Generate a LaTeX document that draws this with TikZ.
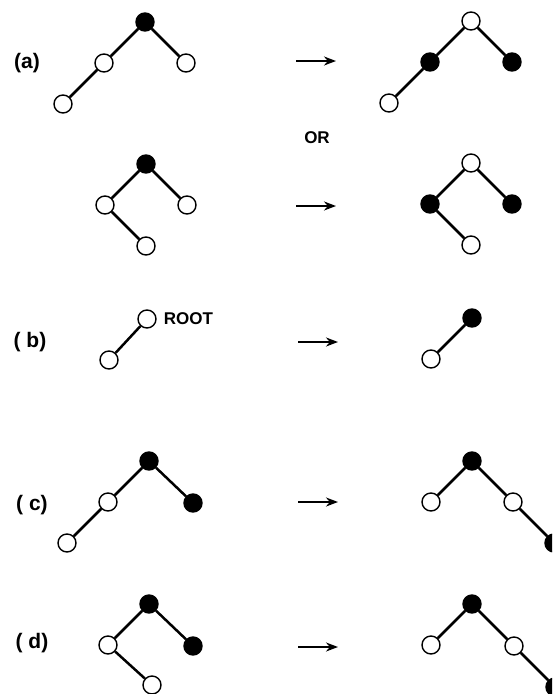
\documentclass[tikz,border=0pt]{standalone}
\usepackage{fontspec}
\setsansfont{Liberation Sans}
\usetikzlibrary{positioning,arrows.meta}
\tikzset{
  rbnode/.style = {circle, draw=black, line width=1.4pt,
    minimum size=18pt, inner sep=0pt},
  rb_b/.style = {rbnode, fill=black},% noeud noir
  rb_w/.style = {rbnode, fill=white},% noeud blanc
  rb_e/.style = {line width=2.5pt},% arete
  txtlbl/.style = {font=\sffamily\bfseries\fontsize{17}{20}\selectfont},
  caselbl/.style = {font=\sffamily\bfseries\fontsize{21}{24}\selectfont},
  goarrow/.style = {line width=2pt, -{Stealth[length=12pt,width=9pt]}}
}

\begin{document}
\begin{tikzpicture}[x=1pt,y=-1pt,on grid,node distance=41pt and 41pt]
\useasboundingbox (0,0) rectangle (552,694);
\clip (0,0) rectangle (552,694);

% (a)
\node[caselbl] (la) at (27,63) {(a)};
\node[rb_b] (a1) at (145,22) {};
\node[rb_w, below left=of a1] (a2) {};
\node[rb_w, below right=of a1] (a3) {};
\node[rb_w, below left=of a2] (a4) {};
\draw[rb_e] (a1) -- (a2) (a1) -- (a3) (a2) -- (a4);

\coordinate (pa1) at (296,61);
\coordinate (pa2) at (336,61);
\draw[goarrow] (pa1) -- (pa2);

\node[rb_w] (a5) at (471,21) {};
\node[rb_b, below left=of a5] (a6) {};
\node[rb_b, below right=of a5] (a7) {};
\node[rb_w, below left=of a6] (a8) {};
\draw[rb_e] (a5) -- (a6) (a5) -- (a7) (a6) -- (a8);

\node[txtlbl] (or) at (317,138) {OR};

\node[rb_b] (e1) at (146,164) {};
\node[rb_w, below left=of e1] (e2) {};
\node[rb_w, below right=of e1] (e3) {};
\node[rb_w, below right=of e2] (e4) {};
\draw[rb_e] (e1) -- (e2) (e1) -- (e3) (e2) -- (e4);

\coordinate (pe1) at (296,206);
\coordinate (pe2) at (336,206);
\draw[goarrow] (pe1) -- (pe2);

\node[rb_w] (e5) at (471,163) {};
\node[rb_b, below left=of e5] (e6) {};
\node[rb_b, below right=of e5] (e7) {};
\node[rb_w, below right=of e6] (e8) {};
\draw[rb_e] (e5) -- (e6) (e5) -- (e7) (e6) -- (e8);

% (b)
\node[caselbl] (lb) at (30,342) {( b)};
\node[rb_w] (b1) at (147,319) {};
\node[rb_w, below left=41pt and 38pt of b1] (b2) {};
\draw[rb_e] (b1) -- (b2);
\node[txtlbl, anchor=west, inner sep=0pt] (rootlbl) at ([xshift=7pt]b1.east) {ROOT};

\coordinate (pb1) at (298,342);
\coordinate (pb2) at (338,342);
\draw[goarrow] (pb1) -- (pb2);

\node[rb_b] (b3) at (472,318) {};
\node[rb_w, below left=of b3] (b4) {};
\draw[rb_e] (b3) -- (b4);

% (c)
\node[caselbl] (lc) at (32,505) {( c)};
\node[rb_b] (c1) at (149,461) {};
\node[rb_w, below left=of c1] (c2) {};
\node[rb_w, below left=of c2] (c3) {};
\node[rb_b, below right=42pt and 44pt of c1] (c4) {};
\draw[rb_e] (c1) -- (c2) (c2) -- (c3) (c1) -- (c4);

\coordinate (pc1) at (298,502);
\coordinate (pc2) at (338,502);
\draw[goarrow] (pc1) -- (pc2);

\node[rb_b] (c5) at (472,461) {};
\node[rb_w, below left=of c5] (c6) {};
\node[rb_w, below right=of c5] (c7) {};
\node[rb_b, below right=of c7] (c8) {};
\draw[rb_e] (c5) -- (c6) (c5) -- (c7) (c7) -- (c8);

% (d)
\node[caselbl] (ld) at (32,643) {( d)};
\node[rb_b] (d1) at (149,604) {};
\node[rb_w, below left=of d1] (d2) {};
\node[rb_w, below right=40pt and 44pt of d2] (d3) {};
\node[rb_b, below right=42pt and 44pt of d1] (d4) {};
\draw[rb_e] (d1) -- (d2) (d2) -- (d3) (d1) -- (d4);

\coordinate (pd1) at (298,647);
\coordinate (pd2) at (338,647);
\draw[goarrow] (pd1) -- (pd2);

\node[rb_b] (d5) at (472,604) {};
\node[rb_w, below left=of d5] (d6) {};
\node[rb_w, below right=42pt and 42pt of d5] (d7) {};
\node[rb_b, below right=of d7] (d8) {};
\draw[rb_e] (d5) -- (d6) (d5) -- (d7) (d7) -- (d8);
\end{tikzpicture}
\end{document}
